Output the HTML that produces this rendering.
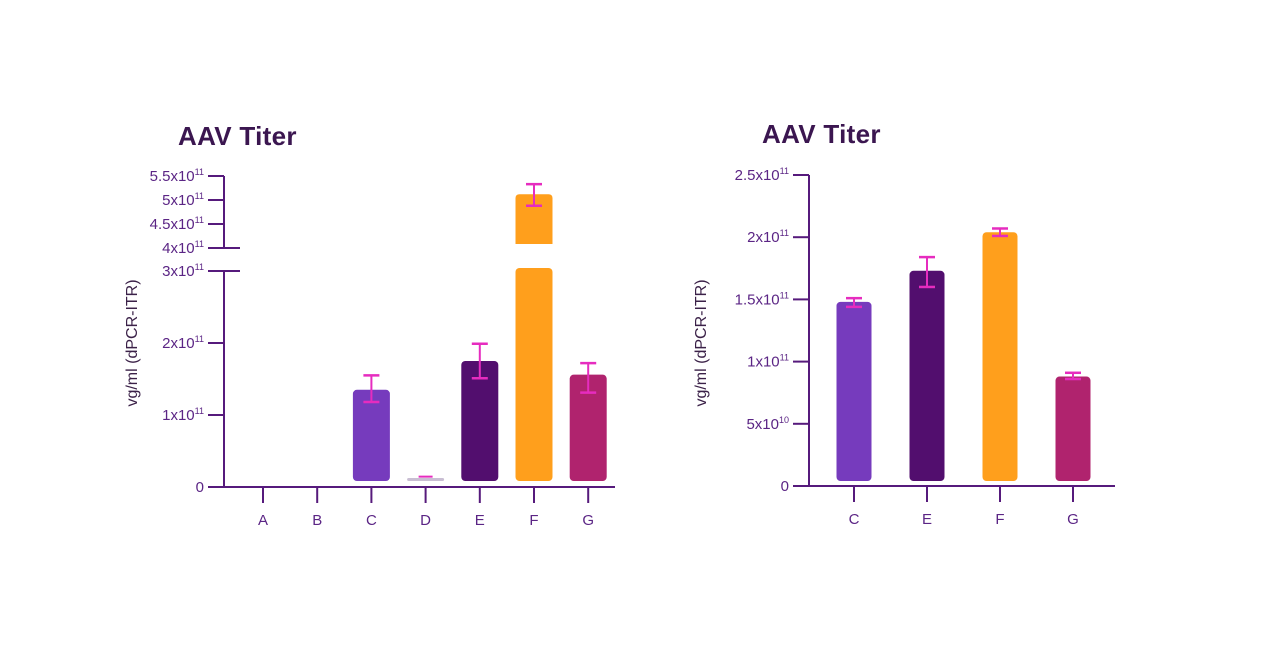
<!DOCTYPE html>
<html><head><meta charset="utf-8">
<style>
html,body{margin:0;padding:0;background:#fff;width:1280px;height:661px;overflow:hidden}
svg{display:block}
text{font-family:"Liberation Sans",sans-serif}
</style></head>
<body>
<svg id="chart" width="1280" height="661" viewBox="0 0 1280 661" xmlns="http://www.w3.org/2000/svg"></svg>
<script>
// Left chart data
const leftCategories = ["A","B","C","D","E","F","G"];
const leftValues = [0, 0, 1.35, 0.12, 1.75, 5.12, 1.56];      // x10^11
const leftErrHigh = [null, null, 1.55, 0.13, 1.99, 5.33, 1.72];
const leftErrLow = [null, null, 1.18, 0.12, 1.51, 4.88, 1.31];
const leftLowerTicks = [0, 1, 2, 3];
const leftLowerTickLabels = ["0","1x10","2x10","3x10"];
const leftUpperTicks = [4, 4.5, 5, 5.5];
const leftUpperTickLabels = ["4x10","4.5x10","5x10","5.5x10"];
// Right chart data
const rightCategories = ["C","E","F","G"];
const rightValues = [1.48, 1.73, 2.04, 0.88];
const rightErrHigh = [1.51, 1.84, 2.07, 0.91];
const rightErrLow = [1.44, 1.60, 2.01, 0.86];
const rightTicks = [0, 0.5, 1, 1.5, 2, 2.5];
const rightTickLabels = ["0","5x10","1x10","1.5x10","2x10","2.5x10"];
const rightTickExp = ["", "10", "11", "11", "11", "11"];

const NS = "http://www.w3.org/2000/svg";
const svg = document.getElementById("chart");
const AX = "#561a7c", LBL = "#5b2585", ERR = "#e62cbf";
const colorMap = {A:"#7a3dbf",B:"#7a3dbf",C:"#763bbd",D:"#c9bed3",E:"#520e6e",F:"#ff9f1c",G:"#b0236e"};

function el(tag, attrs, parent){
  const e = document.createElementNS(NS, tag);
  for (const k in attrs) e.setAttribute(k, attrs[k]);
  (parent||svg).appendChild(e);
  return e;
}
function line(x1,y1,x2,y2,c,w,p){ return el("line",{x1,y1,x2,y2,stroke:c,"stroke-width":w},p); }
function tickLabel(x,y,txt,exp,p){
  const t = el("text",{x:x,y:y,"text-anchor":"end","font-size":"15",fill:LBL},p);
  
  
  t.appendChild(document.createTextNode(txt));
  if (exp){
    const s = document.createElementNS(NS,"tspan");
    s.setAttribute("font-size","9"); s.setAttribute("dy","-6");
    s.textContent = exp; t.appendChild(s);
  }
  return t;
}
function title(x,y,txt){
  const t = el("text",{x,y,"font-size":"26","font-weight":"bold",fill:"#3b1650","letter-spacing":"0.3"});
  
  
  t.textContent = txt;
}
function yTitle(x,y){
  const t = el("text",{x:0,y:0,transform:`translate(${x},${y}) rotate(-90)`,"text-anchor":"middle","font-size":"16",fill:"#3b2148"});
  
  
  t.textContent = "vg/ml (dPCR-ITR)";
}
function errorBar(x,yh,yl,p){
  const g = el("g",{},p);
  
  
  line(x,yh,x,yl,ERR,2,g);
  line(x-8,yh,x+8,yh,ERR,2.5,g);
  line(x-8,yl,x+8,yl,ERR,2.5,g);
}

// ---------- LEFT CHART ----------
(function(){
  const g = el("g",{});
  
  
  const axX = 224, base = 487;
  const yLow = v => base - v*72;
  const yUp = v => 248 - (v-4)*48;
  const y = v => v <= 3.2 ? yLow(v) : yUp(v);
  title(178,145,"AAV Titer");
  yTitle(137,343);
  line(axX,176,axX,248,AX,2,g);
  line(axX,271,axX,base,AX,2,g);
  line(208,base,615,base,AX,2,g);
  leftLowerTicks.forEach((v,i)=>{
    const yy = yLow(v);
    if (v===3) line(208,yy,240,yy,AX,2,g); else if (v!==0) line(208,yy,axX,yy,AX,2,g);
    tickLabel(204,yy+5,leftLowerTickLabels[i],v===0?"":"11",g);
  });
  leftUpperTicks.forEach((v,i)=>{
    const yy = yUp(v);
    if (v===4) line(208,yy,240,yy,AX,2,g); else line(208,yy,axX,yy,AX,2,g);
    tickLabel(204,yy+5,leftUpperTickLabels[i],"11",g);
  });
  const x0 = 263, step = 54.2, bw = 37;
  leftCategories.forEach((c,i)=>{
    const cx = x0 + i*step;
    line(cx,base,cx,503,AX,2,g);
    const t = el("text",{x:cx,y:525,"text-anchor":"middle","font-size":"15",fill:LBL},g);
    
    
    t.textContent = c;
    const v = leftValues[i];
    if (v > 0){
      const bottom = base-6;
      if (v > 3.2){
        const r1 = el("rect",{x:cx-bw/2,y:268,width:bw,height:bottom-268,rx:4,fill:colorMap[c]},g);
        
        
        const top = y(v);
        const r2 = el("path",{d:`M${cx-bw/2},244 V${top+4} Q${cx-bw/2},${top} ${cx-bw/2+4},${top} H${cx+bw/2-4} Q${cx+bw/2},${top} ${cx+bw/2},${top+4} V244 Z`,fill:colorMap[c]},g);
        
        
      } else {
        const top = Math.min(y(v), bottom-3);
        const r = el("rect",{x:cx-bw/2,y:top,width:bw,height:bottom-top,rx:v<0.5?1.5:4,fill:colorMap[c]},g);
        
        
      }
      if (leftErrHigh[i]!==null){
        if (c==="D"){ line(cx-7,y(leftErrHigh[i])-1,cx+7,y(leftErrHigh[i])-1,ERR,2,g); }
        else errorBar(cx,y(leftErrHigh[i]),y(leftErrLow[i]),g);
      }
    }
  });
})();

// ---------- RIGHT CHART ----------
(function(){
  const g = el("g",{});
  
  
  const axX = 809, base = 486;
  const y = v => base - v*124.4;
  title(762,143,"AAV Titer");
  yTitle(706,343);
  line(axX,175,axX,base,AX,2,g);
  line(793,base,1115,base,AX,2,g);
  rightTicks.forEach((v,i)=>{
    const yy = y(v);
    line(793,yy,axX,yy,AX,2,g);
    tickLabel(789,yy+5,rightTickLabels[i],rightTickExp[i],g);
  });
  const x0 = 854, step = 73, bw = 35;
  rightCategories.forEach((c,i)=>{
    const cx = x0 + i*step;
    line(cx,base,cx,502,AX,2,g);
    const t = el("text",{x:cx,y:524,"text-anchor":"middle","font-size":"15",fill:LBL},g);
    
    
    t.textContent = c;
    const top = y(rightValues[i]), bottom = base-5;
    const r = el("rect",{x:cx-bw/2,y:top,width:bw,height:bottom-top,rx:4,fill:colorMap[c]},g);
    
    
    errorBar(cx,y(rightErrHigh[i]),y(rightErrLow[i]),g);
  });
})();
</script>
</body></html>
